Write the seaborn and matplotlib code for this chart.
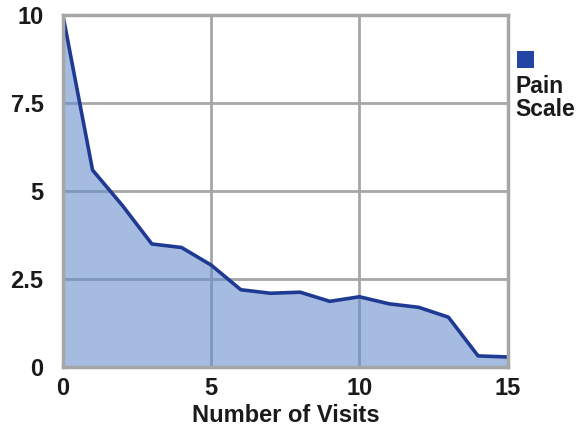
import matplotlib
matplotlib.use('Agg')
import matplotlib.pyplot as plt
from matplotlib.patches import Rectangle
import seaborn as sns
import pandas as pd

# Werte
visits = [0, 1, 2, 3, 4, 5, 6, 7, 8, 9, 10, 11, 12, 13, 14, 15]
pain = [10.0, 5.6, 4.6, 3.5, 3.4, 2.9, 2.2, 2.1, 2.13, 1.87, 2.0, 1.8, 1.7, 1.42, 0.32, 0.29]
x_ticks = [0, 5, 10, 15]
y_ticks = [0, 2.5, 5, 7.5, 10]
y_tick_labels = ['0', '2.5', '5', '7.5', '10']
series_name = 'Pain\nScale'
x_label = 'Number of Visits'

df = pd.DataFrame({'visits': visits, 'pain': pain})

sns.set_style('white')
plt.rcParams['font.family'] = ['Liberation Sans', 'DejaVu Sans']

fig = plt.figure(figsize=(5.77, 4.33), dpi=100)
ax = fig.add_axes([0.109, 0.152, 0.771, 0.813])

grid_color = '#a6a6a6'
ax.grid(True, color=grid_color, linewidth=2.0)
ax.set_axisbelow(True)

ax.fill_between(df['visits'], df['pain'], 0, color='#648dca', alpha=0.58, linewidth=0, zorder=2)
sns.lineplot(data=df, x='visits', y='pain', ax=ax, color='#1f3a93', linewidth=2.6, zorder=3)

ax.set_xlim(0, 15)
ax.set_ylim(0, 10)
ax.set_xticks(x_ticks)
ax.set_yticks(y_ticks)
ax.set_yticklabels(y_tick_labels)
ax.tick_params(length=0, labelsize=17, colors='#1a1a1a')
ax.tick_params(axis='x', pad=7)
ax.tick_params(axis='y', pad=14)
for lab in ax.get_xticklabels() + ax.get_yticklabels():
    lab.set_fontweight('bold')

for spine in ax.spines.values():
    spine.set_color(grid_color)
    spine.set_linewidth(2.5)
    spine.set_zorder(4)

ax.set_xlabel(x_label, fontsize=17, fontweight='bold', color='#1a1a1a', labelpad=3)
ax.set_ylabel('')

# Legende rechts neben dem Diagramm
fig.patches.append(Rectangle((0.896, 0.843), 0.030, 0.040, transform=fig.transFigure,
                             facecolor='#2445a6', edgecolor='none'))
fig.text(0.894, 0.826, series_name, fontsize=16.5, fontweight='bold', color='#1a1a1a',
         va='top', ha='left', linespacing=1.0)

plt.savefig('out.png', dpi=100)
plt.close()
